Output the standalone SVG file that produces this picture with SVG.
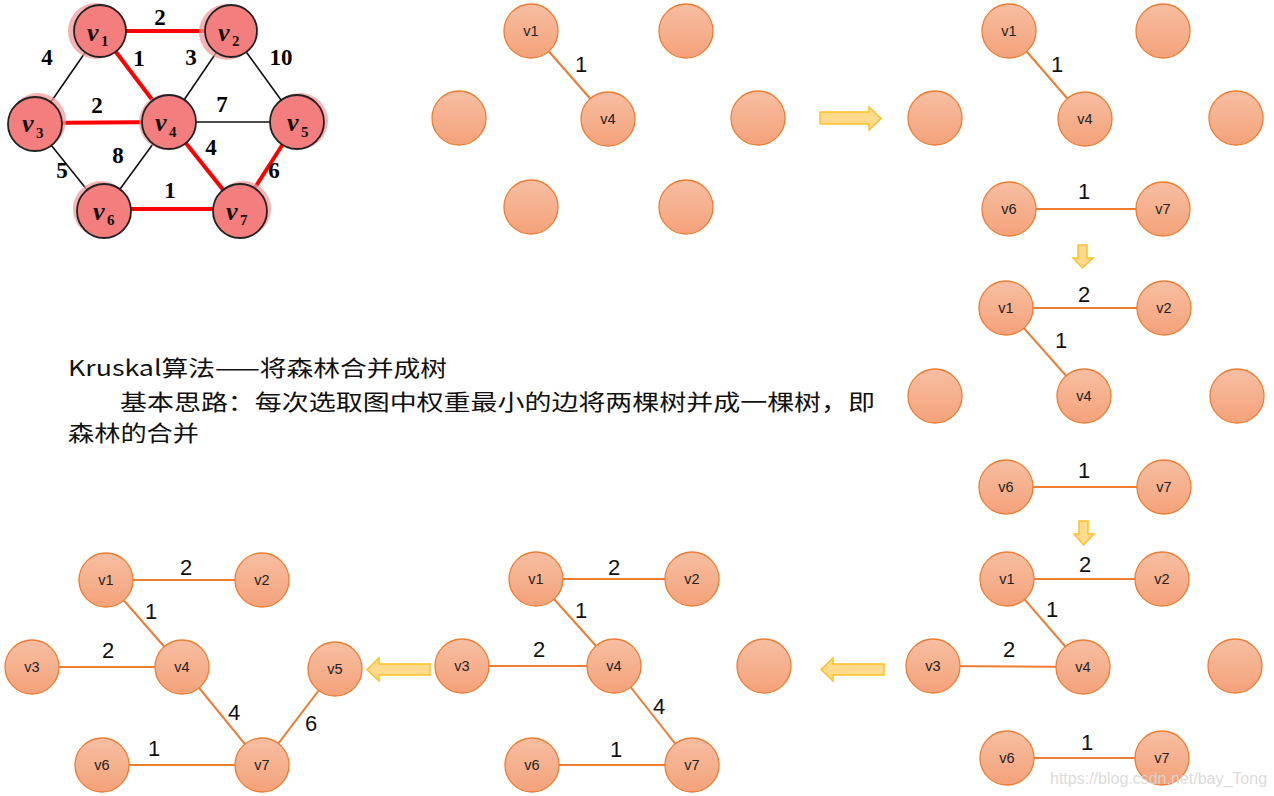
<svg xmlns="http://www.w3.org/2000/svg" width="1274" height="796" viewBox="0 0 1274 796">
<defs>
<linearGradient id="og" x1="0" y1="0" x2="0" y2="1">
<stop offset="0" stop-color="#F7BEA2"/>
<stop offset="1" stop-color="#F4A27A"/>
</linearGradient>
<style>
.rn{fill:#F47D7D;stroke:#222;stroke-width:1.8}
.halo{fill:#F39A9A;opacity:0.75}
.re{stroke:#FF0000;stroke-width:4}
.be{stroke:#111;stroke-width:1.6}
.wl{font-family:"Liberation Serif",serif;font-weight:bold;font-size:23px;fill:#000;text-anchor:middle}
.vl{font-family:"Liberation Serif",serif;font-weight:bold;font-style:italic;font-size:26px;fill:#111}
.vs{font-family:"Liberation Serif",serif;font-weight:bold;font-size:15px;fill:#111}
.on{fill:url(#og);stroke:#ED7D31;stroke-width:1.3}
.oe{stroke:#ED7D31;stroke-width:2}
.nl{font-family:"Liberation Sans","Noto Sans",sans-serif;font-size:14.5px;fill:#222;text-anchor:middle}
.el{font-family:"Liberation Sans","Noto Sans",sans-serif;font-size:22px;fill:#111;text-anchor:middle}
.ar{fill:#FFD98C;stroke:#FFC125;stroke-width:1.5}
.tx{font-family:"Noto Sans CJK SC","Noto Sans",sans-serif;font-size:22px;fill:#111}
</style>
</defs>

<!-- Top-left weighted graph -->
<g id="ref-edges">
<line class="be" x1="100" y1="31" x2="35" y2="125"/>
<line class="be" x1="231" y1="31" x2="169" y2="122"/>
<line class="be" x1="231" y1="31" x2="297" y2="122"/>
<line class="be" x1="169" y1="122" x2="297" y2="122"/>
<line class="be" x1="35" y1="125" x2="104" y2="211"/>
<line class="be" x1="169" y1="122" x2="104" y2="211"/>
<line class="re" x1="100" y1="31" x2="231" y2="31"/>
<line class="re" x1="100" y1="31" x2="169" y2="122"/>
<line class="re" x1="35" y1="123" x2="169" y2="122"/>
<line class="re" x1="169" y1="122" x2="240" y2="211"/>
<line class="re" x1="297" y1="122" x2="240" y2="211"/>
<line class="re" x1="104" y1="209" x2="240" y2="209"/>
<text class="wl" x="160" y="25">2</text>
<text class="wl" x="47" y="65">4</text>
<text class="wl" x="139" y="66">1</text>
<text class="wl" x="191" y="65">3</text>
<text class="wl" x="281" y="65">10</text>
<text class="wl" x="97" y="113">2</text>
<text class="wl" x="222" y="112">7</text>
<text class="wl" x="118" y="163">8</text>
<text class="wl" x="211" y="155">4</text>
<text class="wl" x="62" y="178">5</text>
<text class="wl" x="274" y="178">6</text>
<text class="wl" x="170" y="198">1</text>
</g>
<g id="ref-v1"><circle class="halo" cx="96" cy="31" r="28"/><circle class="rn" cx="100" cy="31" r="26"/><text class="vl" x="87" y="41">v</text><text class="vs" x="101" y="46">1</text></g>
<g id="ref-v2"><circle class="halo" cx="227" cy="32" r="28"/><circle class="rn" cx="231" cy="31" r="26"/><text class="vl" x="218" y="41">v</text><text class="vs" x="232" y="46">2</text></g>
<g id="ref-v3"><circle class="halo" cx="38" cy="121" r="28"/><circle class="rn" cx="35" cy="124" r="27"/><text class="vl" x="22" y="132">v</text><text class="vs" x="36" y="138">3</text></g>
<g id="ref-v4"><circle class="halo" cx="167" cy="122" r="28"/><circle class="rn" cx="169" cy="122" r="27"/><text class="vl" x="155" y="131">v</text><text class="vs" x="169" y="137">4</text></g>
<g id="ref-v5"><circle class="halo" cx="300" cy="121" r="28"/><circle class="rn" cx="297" cy="122" r="27"/><text class="vl" x="287" y="131">v</text><text class="vs" x="301" y="137">5</text></g>
<g id="ref-v6"><circle class="halo" cx="101" cy="209" r="28"/><circle class="rn" cx="104" cy="211" r="27"/><text class="vl" x="93" y="220">v</text><text class="vs" x="107" y="225">6</text></g>
<g id="ref-v7"><circle class="halo" cx="243" cy="209" r="28"/><circle class="rn" cx="240" cy="211" r="27"/><text class="vl" x="226" y="220">v</text><text class="vs" x="240" y="225">7</text></g>

<!-- Description text -->
<g id="description">
<text class="tx" x="68" y="376" textLength="379" lengthAdjust="spacingAndGlyphs">Kruskal算法——将森林合并成树</text>
<text class="tx" x="120" y="410" textLength="755" lengthAdjust="spacingAndGlyphs">基本思路：每次选取图中权重最小的边将两棵树并成一棵树，即</text>
<text class="tx" x="68" y="441" textLength="131" lengthAdjust="spacingAndGlyphs">森林的合并</text>
</g>

<!-- Connectors (orange step graphs) -->
<g id="connectors">
<line class="oe" x1="531" y1="31" x2="608" y2="119"/>
<line class="oe" x1="1009" y1="31" x2="1085" y2="119"/>
<line class="oe" x1="1009" y1="209" x2="1163" y2="209"/>
<line class="oe" x1="1006" y1="308" x2="1164" y2="308"/>
<line class="oe" x1="1006" y1="308" x2="1084" y2="396"/>
<line class="oe" x1="1006" y1="487" x2="1164" y2="487"/>
<line class="oe" x1="1007" y1="579" x2="1162" y2="579"/>
<line class="oe" x1="1007" y1="579" x2="1083" y2="667"/>
<line class="oe" x1="933" y1="666" x2="1083" y2="667"/>
<line class="oe" x1="1007" y1="758" x2="1162" y2="758"/>
<line class="oe" x1="536" y1="579" x2="692" y2="579"/>
<line class="oe" x1="536" y1="579" x2="614" y2="666"/>
<line class="oe" x1="462" y1="666" x2="614" y2="666"/>
<line class="oe" x1="614" y1="666" x2="692" y2="765"/>
<line class="oe" x1="532" y1="765" x2="692" y2="765"/>
<line class="oe" x1="106" y1="580" x2="262" y2="580"/>
<line class="oe" x1="106" y1="580" x2="182" y2="667"/>
<line class="oe" x1="32" y1="667" x2="182" y2="667"/>
<line class="oe" x1="182" y1="667" x2="262" y2="765"/>
<line class="oe" x1="335" y1="669" x2="262" y2="765"/>
<line class="oe" x1="102" y1="765" x2="262" y2="765"/>
<text class="el" x="581" y="72">1</text>
<text class="el" x="1057" y="72">1</text>
<text class="el" x="1084" y="199">1</text>
<text class="el" x="1084" y="302">2</text>
<text class="el" x="1061" y="348">1</text>
<text class="el" x="1084" y="478">1</text>
<text class="el" x="1085" y="572">2</text>
<text class="el" x="1052" y="617">1</text>
<text class="el" x="1009" y="657">2</text>
<text class="el" x="1087" y="750">1</text>
<text class="el" x="614" y="575">2</text>
<text class="el" x="581" y="618">1</text>
<text class="el" x="539" y="657">2</text>
<text class="el" x="659" y="714">4</text>
<text class="el" x="616" y="757">1</text>
<text class="el" x="186" y="575">2</text>
<text class="el" x="151" y="619">1</text>
<text class="el" x="108" y="658">2</text>
<text class="el" x="234" y="720">4</text>
<text class="el" x="311" y="731">6</text>
<text class="el" x="154" y="756">1</text>
</g>

<!-- Step arrows -->
<g id="arrow-right"><polygon class="ar" points="820,112 869,112 869,107 881,118.5 869,130 869,124 820,124"/></g>
<g id="arrow-down-1"><polygon class="ar" points="1078,245 1087,245 1087,258 1093,258 1082.5,268 1073,258 1078,258"/></g>
<g id="arrow-down-2"><polygon class="ar" points="1079,521 1088,521 1088,534 1094,534 1083.5,545 1074,534 1079,534"/></g>
<g id="arrow-left-1"><polygon class="ar" points="884,664 833,664 833,658 821,669.5 833,681 833,675 884,675"/></g>
<g id="arrow-left-2"><polygon class="ar" points="430,664 379,664 379,658 367,669.5 379,681 379,675 430,675"/></g>

<!-- Step 1 -->
<g id="s1-v1"><circle class="on" cx="531" cy="31" r="27"/><text class="nl" x="531" y="36">v1</text></g>
<g id="s1-n2"><circle class="on" cx="686" cy="31" r="27"/></g>
<g id="s1-n3"><circle class="on" cx="459" cy="118" r="27"/></g>
<g id="s1-v4"><circle class="on" cx="608" cy="119" r="27"/><text class="nl" x="608" y="124">v4</text></g>
<g id="s1-n5"><circle class="on" cx="758" cy="118" r="27"/></g>
<g id="s1-n6"><circle class="on" cx="531" cy="207" r="27"/></g>
<g id="s1-n7"><circle class="on" cx="686" cy="207" r="27"/></g>

<!-- Step 2 -->
<g id="s2-v1"><circle class="on" cx="1009" cy="31" r="27"/><text class="nl" x="1009" y="36">v1</text></g>
<g id="s2-n2"><circle class="on" cx="1163" cy="31" r="27"/></g>
<g id="s2-n3"><circle class="on" cx="935" cy="118" r="27"/></g>
<g id="s2-v4"><circle class="on" cx="1085" cy="119" r="27"/><text class="nl" x="1085" y="124">v4</text></g>
<g id="s2-n5"><circle class="on" cx="1236" cy="118" r="27"/></g>
<g id="s2-v6"><circle class="on" cx="1009" cy="209" r="27"/><text class="nl" x="1009" y="214">v6</text></g>
<g id="s2-v7"><circle class="on" cx="1163" cy="209" r="27"/><text class="nl" x="1163" y="214">v7</text></g>

<!-- Step 3 -->
<g id="s3-v1"><circle class="on" cx="1006" cy="308" r="27"/><text class="nl" x="1006" y="313">v1</text></g>
<g id="s3-v2"><circle class="on" cx="1164" cy="308" r="27"/><text class="nl" x="1164" y="313">v2</text></g>
<g id="s3-n3"><circle class="on" cx="935" cy="396" r="27"/></g>
<g id="s3-v4"><circle class="on" cx="1084" cy="396" r="27"/><text class="nl" x="1084" y="401">v4</text></g>
<g id="s3-n5"><circle class="on" cx="1237" cy="396" r="27"/></g>
<g id="s3-v6"><circle class="on" cx="1006" cy="487" r="27"/><text class="nl" x="1006" y="492">v6</text></g>
<g id="s3-v7"><circle class="on" cx="1164" cy="487" r="27"/><text class="nl" x="1164" y="492">v7</text></g>

<!-- Step 4 -->
<g id="s4-v1"><circle class="on" cx="1007" cy="579" r="27"/><text class="nl" x="1007" y="584">v1</text></g>
<g id="s4-v2"><circle class="on" cx="1162" cy="579" r="27"/><text class="nl" x="1162" y="584">v2</text></g>
<g id="s4-v3"><circle class="on" cx="933" cy="666" r="27"/><text class="nl" x="933" y="671">v3</text></g>
<g id="s4-v4"><circle class="on" cx="1083" cy="667" r="27"/><text class="nl" x="1083" y="672">v4</text></g>
<g id="s4-n5"><circle class="on" cx="1235" cy="666" r="27"/></g>
<g id="s4-v6"><circle class="on" cx="1007" cy="758" r="27"/><text class="nl" x="1007" y="763">v6</text></g>
<g id="s4-v7"><circle class="on" cx="1162" cy="758" r="27"/><text class="nl" x="1162" y="763">v7</text></g>

<!-- Step 5 -->
<g id="s5-v1"><circle class="on" cx="536" cy="579" r="27"/><text class="nl" x="536" y="584">v1</text></g>
<g id="s5-v2"><circle class="on" cx="692" cy="579" r="27"/><text class="nl" x="692" y="584">v2</text></g>
<g id="s5-v3"><circle class="on" cx="462" cy="666" r="27"/><text class="nl" x="462" y="671">v3</text></g>
<g id="s5-v4"><circle class="on" cx="614" cy="666" r="27"/><text class="nl" x="614" y="671">v4</text></g>
<g id="s5-n5"><circle class="on" cx="764" cy="666" r="27"/></g>
<g id="s5-v6"><circle class="on" cx="532" cy="765" r="27"/><text class="nl" x="532" y="770">v6</text></g>
<g id="s5-v7"><circle class="on" cx="692" cy="765" r="27"/><text class="nl" x="692" y="770">v7</text></g>

<!-- Step 6 -->
<g id="s6-v1"><circle class="on" cx="106" cy="580" r="27"/><text class="nl" x="106" y="585">v1</text></g>
<g id="s6-v2"><circle class="on" cx="262" cy="580" r="27"/><text class="nl" x="262" y="585">v2</text></g>
<g id="s6-v3"><circle class="on" cx="32" cy="667" r="27"/><text class="nl" x="32" y="672">v3</text></g>
<g id="s6-v4"><circle class="on" cx="182" cy="667" r="27"/><text class="nl" x="182" y="672">v4</text></g>
<g id="s6-v5"><circle class="on" cx="335" cy="669" r="27"/><text class="nl" x="335" y="674">v5</text></g>
<g id="s6-v6"><circle class="on" cx="102" cy="765" r="27"/><text class="nl" x="102" y="770">v6</text></g>
<g id="s6-v7"><circle class="on" cx="262" cy="765" r="27"/><text class="nl" x="262" y="770">v7</text></g>

<!-- Watermark -->
<g id="watermark"><text x="1050" y="784" font-family="Liberation Sans, sans-serif" font-size="16" fill="#d8d8d8" opacity="0.9">https://blog.csdn.net/bay_Tong</text></g>
</svg>
